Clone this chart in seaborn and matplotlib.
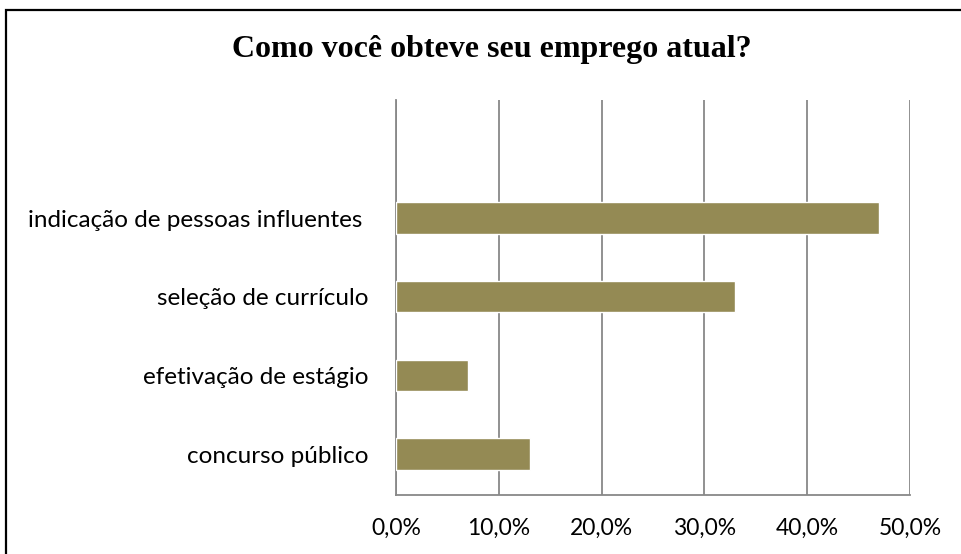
import matplotlib
matplotlib.use("Agg")
import matplotlib.pyplot as plt
import matplotlib.patches as mpatches
from matplotlib.ticker import FuncFormatter
import seaborn as sns
import pandas as pd

# Dados
categorias = ["indicação de pessoas influentes ", "seleção de currículo",
              "efetivação de estágio", "concurso público"]
percentuais = [47.0, 33.0, 7.0, 13.0]

df = pd.DataFrame({"categoria": categorias, "pct": percentuais})

sns.set_theme(style="white")
plt.rcParams["font.family"] = ["Lato", "DejaVu Sans"]

fig = plt.figure(figsize=(9.62, 5.54), dpi=100)
ax = fig.add_axes([396 / 962, 1 - 495 / 554, 514 / 962, 395 / 554])

sns.barplot(data=df, x="pct", y="categoria", color="#948A54", saturation=1,
            width=0.4, ax=ax, zorder=3)

ax.set_xlim(0, 50)
ax.set_ylim(3.52, -1.5)
ax.set_xticks([0, 10, 20, 30, 40, 50])
ax.xaxis.set_major_formatter(FuncFormatter(lambda v, p: f"{v:.1f}%".replace(".", ",")))
ax.grid(axis="x", color="#888888", linewidth=1.3, zorder=0)
ax.set_xlabel("")
ax.set_ylabel("")

for s in ["top", "right"]:
    ax.spines[s].set_visible(False)
for s in ["left", "bottom"]:
    ax.spines[s].set_color("#888888")
    ax.spines[s].set_linewidth(1.3)

ax.tick_params(axis="x", labelsize=16.5, pad=16.5, colors="black", length=0)
ax.tick_params(axis="y", labelsize=17.5, pad=20, colors="black", length=0)

fig.text(0.511, 1 - 50 / 554, "Como você obteve seu emprego atual?",
         ha="center", va="center", fontsize=23, fontweight="bold",
         family="Liberation Serif", color="black")

# moldura do gráfico
fig.patches.append(mpatches.Rectangle((6 / 962, -0.05), 1.0, 1 - 10 / 554 + 0.05,
                                      transform=fig.transFigure, fill=False,
                                      edgecolor="black", linewidth=1.6))

fig.savefig("out.png", dpi=100)
